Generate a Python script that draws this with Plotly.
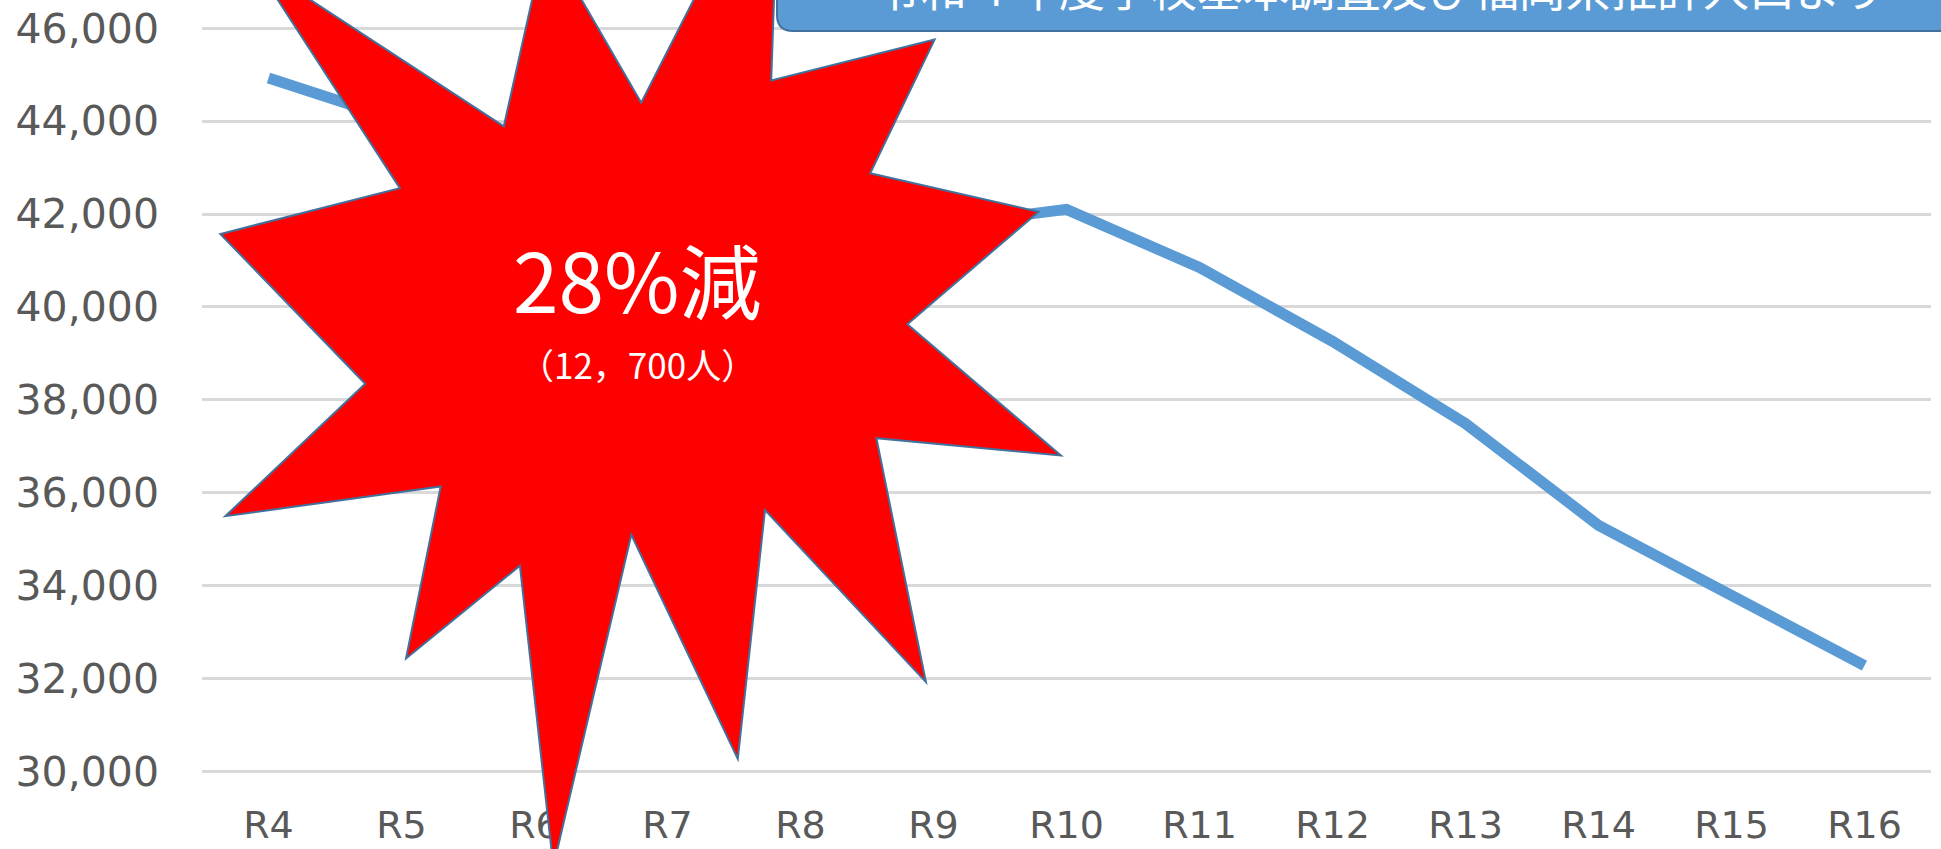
import plotly.graph_objects as go

# ---------------- data ----------------
categories = ["R4", "R5", "R6", "R7", "R8", "R9", "R10", "R11", "R12", "R13", "R14", "R15", "R16"]
students = [44930, 44000, 43300, 42800, 42200, 41740, 42100, 40850, 39260, 37490, 35300, 33790, 32280]
y_ticks = [30000, 32000, 34000, 36000, 38000, 40000, 42000, 44000, 46000]

burst_main = "28%減"
burst_sub = "（12，700人）"
source_text = "令和４年度学校基本調査及び福岡県推計人口より"

# ---------------- layout geometry (pixels) ----------------
W_FIG, H_FIG = 1941, 849
L, R, T, B = 202, 10, 10, 50
PW = W_FIG - L - R
PH = H_FIG - T - B


def px(x):
    return (x - L) / PW


def py(y):
    return (H_FIG - B - y) / PH


# star (explosion) outline, pixel coordinates (measured on a 1568-wide copy)
star_px = [(205, -30), (407, 102), (441, -50), (518, 83), (630, -137), (623, 65),
           (755, 32), (703, 140), (839, 171), (733, 262), (857, 368), (708, 354),
           (748, 551), (618, 412), (596, 613), (510, 432), (447, 700), (420, 457),
           (328, 532), (356, 393), (182, 417), (295, 310), (178, 189), (323, 152)]
SCALE = 1941 / 1568
star_path = "M " + " L ".join(f"{px(x * SCALE):.5f},{py(y * SCALE):.5f}" for x, y in star_px) + " Z"

# rounded source box
bx0, bx1, by0, by1, rad = 777, 1960, -60, 31, 16
box_path = (f"M {px(bx0):.5f},{py(by0):.5f} "
            f"L {px(bx0):.5f},{py(by1 - rad):.5f} "
            f"Q {px(bx0):.5f},{py(by1):.5f} {px(bx0 + rad):.5f},{py(by1):.5f} "
            f"L {px(bx1):.5f},{py(by1):.5f} L {px(bx1):.5f},{py(by0):.5f} Z")

fig = go.Figure()
fig.add_trace(go.Scatter(
    x=categories, y=students, mode="lines",
    line=dict(color="#5B9BD5", width=11),
    hoverinfo="x+y", showlegend=False,
))

fig.update_layout(
    width=W_FIG, height=H_FIG,
    margin=dict(l=L, r=R, t=T, b=B, pad=0),
    paper_bgcolor="white", plot_bgcolor="white",
    xaxis=dict(type="category", range=[-0.5, 12.5], showgrid=False, zeroline=False,
               showline=False, ticks="", ticklabelstandoff=0, automargin=False,
               tickfont=dict(family="DejaVu Sans", size=38, color="#595959")),
    yaxis=dict(range=[29408, 46392], tickvals=y_ticks, tickformat=",d",
               showgrid=True, gridcolor="#D9D9D9", gridwidth=3, zeroline=False,
               showline=False, ticks="", ticklabelstandoff=42, automargin=False,
               tickfont=dict(family="DejaVu Sans", size=41, color="#595959")),
    shapes=[
        dict(type="path", path=star_path, xref="paper", yref="paper",
             fillcolor="#FF0000", line=dict(color="#41719C", width=2), layer="above"),
        dict(type="path", path=box_path, xref="paper", yref="paper",
             fillcolor="#5B9BD5", line=dict(color="#41719C", width=2), layer="above"),
    ],
    annotations=[
        dict(text=burst_main, x=px(637), y=py(277), xref="paper", yref="paper",
             showarrow=False, xanchor="center", yanchor="middle",
             font=dict(family="Noto Sans CJK JP", size=82, color="white")),
        dict(text=burst_sub, x=px(637), y=py(363), xref="paper", yref="paper",
             showarrow=False, xanchor="center", yanchor="middle",
             font=dict(family="Noto Sans CJK JP", size=35, color="white")),
        dict(text=source_text, x=px(1380), y=py(-14), xref="paper", yref="paper",
             showarrow=False, xanchor="center", yanchor="middle",
             font=dict(family="Noto Sans CJK JP", size=46, color="white")),
    ],
)

fig.write_html("out.html")
